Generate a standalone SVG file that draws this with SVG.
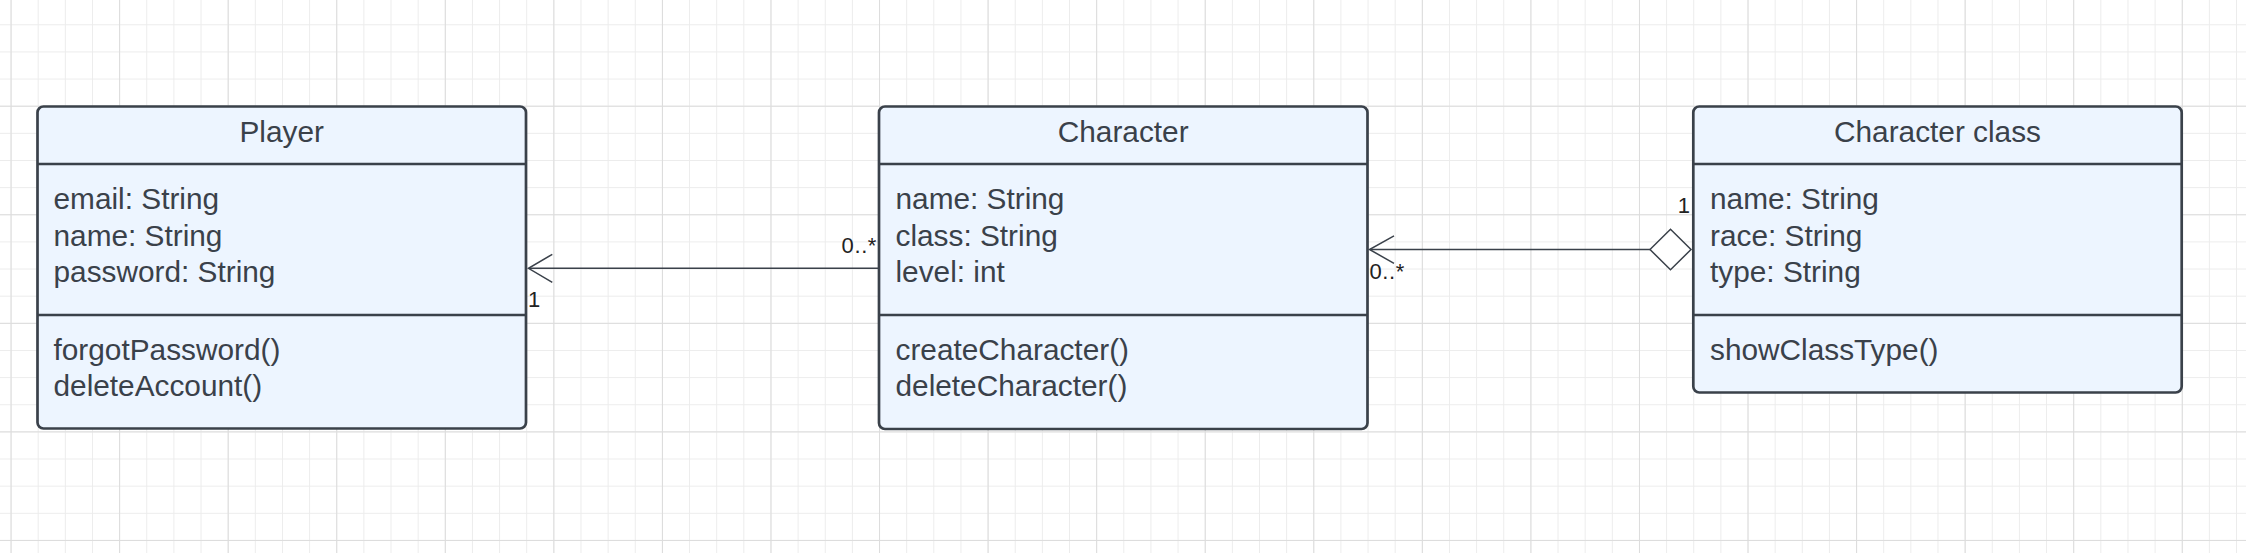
<svg xmlns="http://www.w3.org/2000/svg" width="2246" height="553" viewBox="0 0 2246 553">
<style>
.box{fill:#edf5ff;stroke:#3a414a;stroke-width:2.7}
.div{stroke:#3a414a;stroke-width:2.5}
.t{font-family:"Liberation Sans",Arial,sans-serif;font-size:29.8px;fill:#3a414a}
.c{text-anchor:middle}
.lbl{font-family:"Liberation Sans",Arial,sans-serif;font-size:22px;letter-spacing:0.6px;fill:#222}
.conn{stroke:#3a414a;stroke-width:1.5;fill:none}
</style>
<defs>
<pattern id="minor" patternUnits="userSpaceOnUse" x="10.56" y="-2.85" width="27.14" height="27.14">
<path d="M0.5 0V27.14M0 0.5H27.14" stroke="#ececec" stroke-width="1" fill="none"/>
</pattern>
<pattern id="major" patternUnits="userSpaceOnUse" x="10.56" y="-2.85" width="108.56" height="108.56">
<path d="M0.5 0V108.56M0 0.5H108.56" stroke="#dcdcdc" stroke-width="1" fill="none"/>
</pattern>
</defs>
<rect width="2246" height="553" fill="#ffffff"/>
<rect width="2246" height="553" fill="url(#minor)"/>
<rect width="2246" height="553" fill="url(#major)"/>

<g id="connectors">
<g id="player-character">
<line class="conn" x1="879" y1="268.3" x2="529" y2="268.3"/>
<polyline class="conn" points="552.3,254.3 528.5,268.3 552.3,282.3"/>
<text class="lbl" x="528" y="306.7">1</text>
<text class="lbl" x="877" y="252.7" text-anchor="end">0..*</text>
</g>
<g id="class-character">
<line class="conn" x1="1650" y1="249.5" x2="1370" y2="249.5"/>
<polyline class="conn" points="1394,235.8 1369.5,249.5 1394,263.3"/>
<polygon points="1650,249.5 1670.5,229.3 1691,249.5 1670.5,269.8" fill="#ffffff" stroke="#3a414a" stroke-width="1.5"/>
<text class="lbl" x="1690.5" y="213.3" text-anchor="end">1</text>
<text class="lbl" x="1369.5" y="279.3">0..*</text>
</g>
</g>

<g id="player">
<rect class="box" x="37.5" y="106.5" width="488.5" height="322" rx="6"/>
<line class="div" x1="37.5" y1="164" x2="526" y2="164"/>
<line class="div" x1="37.5" y1="315" x2="526" y2="315"/>
<text class="t c" x="281.7" y="141.7">Player</text>
<text class="t" x="53.5" y="209.3">email: String</text>
<text class="t" x="53.5" y="245.5">name: String</text>
<text class="t" x="53.5" y="281.7">password: String</text>
<text class="t" x="53.5" y="360">forgotPassword()</text>
<text class="t" x="53.5" y="396">deleteAccount()</text>
</g>

<g id="character">
<rect class="box" x="879" y="106.5" width="488.5" height="322.5" rx="6"/>
<line class="div" x1="879" y1="164" x2="1367.5" y2="164"/>
<line class="div" x1="879" y1="315" x2="1367.5" y2="315"/>
<text class="t c" x="1123.2" y="141.7">Character</text>
<text class="t" x="895.5" y="209.3">name: String</text>
<text class="t" x="895.5" y="245.5">class: String</text>
<text class="t" x="895.5" y="281.7">level: int</text>
<text class="t" x="895.5" y="360">createCharacter()</text>
<text class="t" x="895.5" y="396">deleteCharacter()</text>
</g>

<g id="character-class">
<rect class="box" x="1693.3" y="106.5" width="488.4" height="286" rx="6"/>
<line class="div" x1="1693.3" y1="164" x2="2181.7" y2="164"/>
<line class="div" x1="1693.3" y1="315" x2="2181.7" y2="315"/>
<text class="t c" x="1937.5" y="141.7">Character class</text>
<text class="t" x="1710" y="209.3">name: String</text>
<text class="t" x="1710" y="245.5">race: String</text>
<text class="t" x="1710" y="281.7">type: String</text>
<text class="t" x="1710" y="360">showClassType()</text>
</g>
</svg>
